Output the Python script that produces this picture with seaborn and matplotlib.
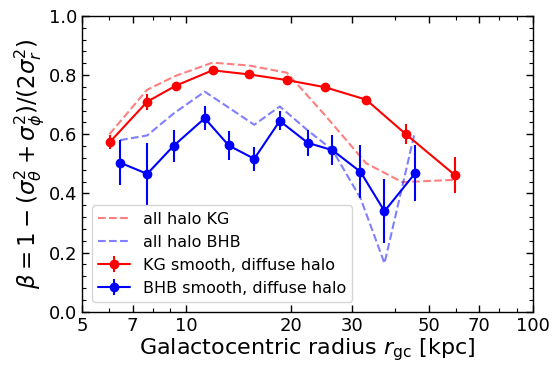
import numpy as np
import matplotlib
matplotlib.use("Agg")
import matplotlib.pyplot as plt
from matplotlib.ticker import FixedLocator, NullFormatter, MultipleLocator, FixedFormatter
import seaborn as sns

# all-halo profiles (dashed)
kg_all_r = [6.0, 7.7, 9.3, 11.9, 15.2, 19.5, 25.1, 33.0, 42.0, 59.4]
kg_all_beta = [0.60, 0.75, 0.797, 0.842, 0.832, 0.808, 0.665, 0.502, 0.438, 0.446]
bhb_all_r = [6.44, 7.71, 9.19, 11.3, 13.25, 15.7, 18.6, 22.4, 26.4, 31.8, 37.3, 45.4]
bhb_all_beta = [0.58, 0.596, 0.67, 0.744, 0.69, 0.632, 0.694, 0.613, 0.547, 0.384, 0.164, 0.596]

# smooth, diffuse halo with errors
kg_r = [6.02, 7.71, 9.32, 11.9, 15.2, 19.5, 25.1, 33.0, 43.0, 59.4]
kg_beta = [0.574, 0.710, 0.764, 0.816, 0.802, 0.783, 0.759, 0.717, 0.600, 0.463]
kg_err = [0.025, 0.027, 0.01, 0.01, 0.01, 0.01, 0.01, 0.013, 0.034, 0.06]
bhb_r = [6.44, 7.71, 9.19, 11.3, 13.25, 15.7, 18.6, 22.4, 26.4, 31.8, 37.3, 45.7]
bhb_beta = [0.504, 0.466, 0.561, 0.654, 0.562, 0.517, 0.645, 0.571, 0.546, 0.473, 0.340, 0.468]
bhb_err = [0.075, 0.105, 0.055, 0.04, 0.048, 0.04, 0.032, 0.044, 0.05, 0.089, 0.108, 0.095]

x_major = [5, 7, 10, 20, 30, 50, 70, 100]
x_minor = [6, 8, 9, 40, 60, 80, 90]

sns.set_style("ticks", rc={"text.color": "black", "axes.labelcolor": "black",
                           "xtick.color": "black", "ytick.color": "black",
                           "axes.edgecolor": "black"})
plt.rcParams['font.family'] = ['DejaVu Sans']
plt.rcParams['mathtext.fontset'] = 'dejavusans'

fig = plt.figure(figsize=(5.54, 3.69), dpi=100)
ax = fig.add_axes([0.148, 0.155, 0.814, 0.802])

sns.lineplot(x=kg_all_r, y=kg_all_beta, ax=ax, color="red", alpha=0.5,
             linestyle="--", linewidth=1.5, label="all halo KG", sort=False)
sns.lineplot(x=bhb_all_r, y=bhb_all_beta, ax=ax, color="blue", alpha=0.5,
             linestyle="--", linewidth=1.5, label="all halo BHB", sort=False)
ax.errorbar(kg_r, kg_beta, yerr=kg_err, color="red", marker="o", markersize=6,
            linewidth=1.5, elinewidth=1.5, label="KG smooth, diffuse halo")
ax.errorbar(bhb_r, bhb_beta, yerr=bhb_err, color="blue", marker="o", markersize=6,
            linewidth=1.5, elinewidth=1.5, label="BHB smooth, diffuse halo")

ax.set_xscale("log")
ax.set_xlim(5, 100)
ax.set_ylim(0, 1.0)
ax.xaxis.set_major_locator(FixedLocator(x_major))
ax.xaxis.set_major_formatter(FixedFormatter([str(v) for v in x_major]))
ax.xaxis.set_minor_locator(FixedLocator(x_minor))
ax.xaxis.set_minor_formatter(NullFormatter())
ax.yaxis.set_major_locator(MultipleLocator(0.2))
ax.yaxis.set_minor_locator(MultipleLocator(0.04))
ax.tick_params(which="both", direction="in", top=True, right=True, labelsize=13)
ax.tick_params(which="major", length=5, width=1)
ax.tick_params(which="minor", length=3, width=0.8)
for s in ax.spines.values():
    s.set_linewidth(1)

ax.set_xlabel(r"Galactocentric radius $r_{\rm gc}$ [kpc]", fontsize=16, labelpad=1)
ax.set_ylabel(r"$\beta = 1 - (\sigma_\theta^2 + \sigma_\phi^2)/(2\sigma_r^2)$", fontsize=16.5, labelpad=1)
ax.legend(loc="lower left", fontsize=11.5, frameon=True, handlelength=2,
          labelspacing=0.5, borderaxespad=0.6)

fig.savefig("out.png", dpi=100)
plt.close(fig)
